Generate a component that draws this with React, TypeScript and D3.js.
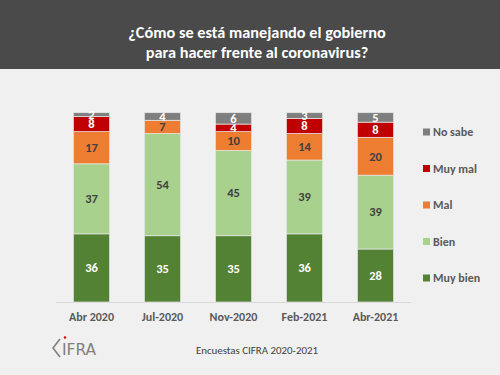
import React from "react";
import * as d3 from "d3";

const categories = ["Abr 2020", "Jul-2020", "Nov-2020", "Feb-2021", "Abr-2021"];
const seriesNames = ["Muy bien", "Bien", "Mal", "Muy mal", "No sabe"];
const muyBien = [36, 35, 35, 36, 28];
const bien = [37, 54, 45, 39, 39];
const mal = [17, 7, 10, 14, 20];
const muyMal = [8, 0, 4, 8, 8];
const noSabe = [2, 4, 6, 3, 5];
const colors = ["#548235", "#a9d18e", "#ed7d31", "#c00000", "#7f7f7f"];
const labelColors = ["#ffffff", "#404040", "#404040", "#ffffff", "#ffffff"];
const yTicks = [0, 100];

const W = 500;
const H = 375;

export default function App() {
  const values = [muyBien, bien, mal, muyMal, noSabe];
  const rows = categories.map((c, i) => {
    const r: any = { cat: c };
    seriesNames.forEach((s, k) => (r[s] = values[k][i]));
    return r;
  });
  const stacked = d3.stack<any>().keys(seriesNames)(rows);

  const x = d3.scaleBand().domain(categories).range([56, 411]).paddingInner(0.49).paddingOuter(0.245);
  const y = d3.scaleLinear().domain([yTicks[0], yTicks[1]]).range([302, 112.7]);

  const font = "Carlito, Calibri, 'Open Sans', sans-serif";
  const legendY = d3.scalePoint<string>().domain([...seriesNames].reverse()).range([132, 278]);

  return (
    <svg width={W} height={H} style={{ position: "absolute", left: 0, top: 0 }} fontFamily={font}>
      <rect x={0} y={0} width={W} height={H} fill="#f0f0f0" />
      <rect x={0} y={0} width={W} height={69} fill="#4a4a4a" />
      <text x={257} y={37.5} textAnchor="middle" fill="#ffffff" fontWeight="bold" fontSize={16.3}>
        ¿Cómo se está manejando el gobierno
      </text>
      <text x={257} y={58} textAnchor="middle" fill="#ffffff" fontWeight="bold" fontSize={16.3}>
        para hacer frente al coronavirus?
      </text>

      <line x1={56} x2={411} y1={302.5} y2={302.5} stroke="#d9d9d9" strokeWidth={1} />

      {stacked.map((layer, k) => (
        <g key={layer.key}>
          {layer.map((d, i) => {
            const v = d[1] - d[0];
            if (v <= 0) return null;
            const x0 = x(categories[i])!;
            const top = y(d[1]);
            const bot = y(d[0]);
            return (
              <g key={i}>
                <rect
                  x={x0}
                  y={top}
                  width={x.bandwidth()}
                  height={bot - top}
                  fill={colors[k]}
                  stroke="#e8e8e8"
                  strokeWidth={0.7}
                />
                <text
                  x={x0 + x.bandwidth() / 2}
                  y={(top + bot) / 2 + 4.3}
                  textAnchor="middle"
                  fill={labelColors[k]}
                  fontWeight="bold"
                  fontSize={12.5}
                >
                  {v}
                </text>
              </g>
            );
          })}
        </g>
      ))}

      {categories.map((c) => (
        <text
          key={c}
          x={x(c)! + x.bandwidth() / 2}
          y={321}
          textAnchor="middle"
          fill="#595959"
          fontWeight="bold"
          fontSize={12}
        >
          {c}
        </text>
      ))}

      {seriesNames.map((s, k) => (
        <g key={s} transform={`translate(423, ${legendY(s)})`}>
          <rect x={0} y={-3.5} width={7} height={7} fill={colors[k]} />
          <text x={10} y={4.2} fill="#595959" fontWeight="bold" fontSize={12}>
            {s}
          </text>
        </g>
      ))}

      <text x={257} y={354} textAnchor="middle" fill="#404040" fontSize={10.9}>
        Encuestas CIFRA 2020-2021
      </text>

      <g stroke="#7f7f7f" strokeWidth={1.6} fill="none">
        <path d="M60,339 L53,348 L60,357" />
      </g>
      <circle cx={65} cy={337.5} r={1.2} fill="#e00000" />
      <text x={62} y={355} fill="#7f7f7f" fontSize={16} textLength={34} lengthAdjust="spacingAndGlyphs" fontFamily="'DejaVu Sans Condensed', sans-serif">
        IFRA
      </text>
    </svg>
  );
}
